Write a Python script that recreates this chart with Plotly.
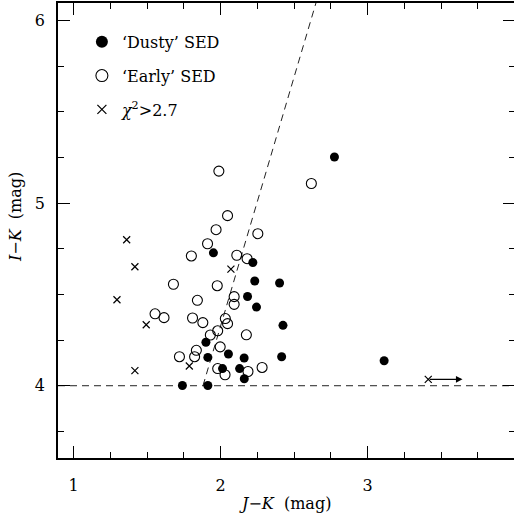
import plotly.graph_objects as go

# --- data (J-K, I-K) ---
dusty_jk = [2.774, 1.951, 2.219, 2.232, 2.401, 2.183, 2.244, 2.424, 1.900, 1.913,
            2.053, 2.160, 2.415, 2.013, 2.129, 2.161, 1.740, 1.913, 3.112]
dusty_ik = [5.253, 4.728, 4.675, 4.574, 4.563, 4.489, 4.431, 4.331, 4.238, 4.155,
            4.174, 4.152, 4.159, 4.094, 4.094, 4.038, 4.001, 4.001, 4.137]

early_jk = [2.617, 1.988, 2.047, 1.969, 2.253, 1.911, 1.801, 2.110, 2.180, 1.679,
            1.977, 1.842, 2.092, 2.092, 1.554, 1.615, 1.809, 1.879, 2.032, 2.047,
            1.930, 1.980, 2.175, 1.997, 1.835, 1.823, 1.720, 1.980, 2.030, 2.186, 2.282]
early_ik = [5.108, 5.176, 4.932, 4.855, 4.833, 4.778, 4.711, 4.715, 4.696, 4.556,
            4.548, 4.468, 4.488, 4.446, 4.394, 4.373, 4.371, 4.346, 4.368, 4.340,
            4.278, 4.301, 4.279, 4.213, 4.194, 4.159, 4.159, 4.094, 4.060, 4.078, 4.100]

chi_jk = [1.361, 1.417, 1.295, 1.494, 1.417, 1.787, 2.070, 3.412]
chi_ik = [4.800, 4.652, 4.471, 4.334, 4.083, 4.108, 4.639, 4.035]

# lower-limit arrow for the reddest cross
arrow_from_jk = 3.412
arrow_to_jk = 3.645
arrow_ik = 4.035

# reference lines
hline_ik = 4.0
slope_jk = [1.88, 2.686]
slope_ik = [4.0, 6.2]

x_range = [0.894, 4.002]
y_range = [3.604, 6.097]

FONT = "DejaVu Serif"

fig = go.Figure()

# dashed reference lines
fig.add_trace(go.Scatter(x=x_range, y=[hline_ik, hline_ik], mode="lines",
                         line=dict(color="#222", width=1, dash="7px,5px"),
                         showlegend=False, hoverinfo="skip"))
fig.add_trace(go.Scatter(x=slope_jk, y=slope_ik, mode="lines",
                         line=dict(color="#222", width=1, dash="7px,5px"),
                         showlegend=False, hoverinfo="skip"))

# data
fig.add_trace(go.Scatter(x=early_jk, y=early_ik, mode="markers",
                         marker=dict(symbol="circle-open", size=10, color="black",
                                     line=dict(width=1.1, color="black")),
                         showlegend=False))
fig.add_trace(go.Scatter(x=dusty_jk, y=dusty_ik, mode="markers",
                         marker=dict(symbol="circle", size=9, color="black"),
                         showlegend=False))
fig.add_trace(go.Scatter(x=chi_jk, y=chi_ik, mode="markers",
                         marker=dict(symbol="x-thin", size=7, color="black",
                                     line=dict(width=1.2, color="black")),
                         showlegend=False))

# legend entries
fig.add_trace(go.Scatter(x=[None], y=[None], mode="markers", name="‘Dusty’ SED",
                         legendgroup="a",
                         marker=dict(symbol="circle", size=12, color="black")))
fig.add_trace(go.Scatter(x=[None], y=[None], mode="markers", name="‘Early’ SED",
                         legendgroup="b",
                         marker=dict(symbol="circle-open", size=12, color="black",
                                     line=dict(width=1.1, color="black"))))
fig.add_trace(go.Scatter(x=[None], y=[None], mode="markers",
                         name="<i>χ</i><sup>2</sup>>2.7", legendgroup="c",
                         marker=dict(symbol="x-thin", size=9, color="black",
                                     line=dict(width=1.2, color="black"))))

fig.add_annotation(x=arrow_to_jk, y=arrow_ik, ax=arrow_from_jk, ay=arrow_ik,
                   xref="x", yref="y", axref="x", ayref="y", text="",
                   showarrow=True, arrowhead=2, arrowsize=1.2, arrowwidth=1.1,
                   arrowcolor="black")

# axis titles (plot area spans 58..517 px horizontally)
fig.add_annotation(x=(286 - 58) / 459, y=-0.099, xref="paper", yref="paper",
                   text="<i>J</i>−<i>K</i>\u00a0 (mag)", showarrow=False,
                   xanchor="center", yanchor="middle",
                   font=dict(family=FONT, size=16, color="black"))
fig.add_annotation(x=(16 - 58) / 459, y=0.53, xref="paper", yref="paper",
                   text="<i>I</i>−<i>K</i>\u00a0 (mag)", showarrow=False,
                   textangle=-90, xanchor="center", yanchor="middle",
                   font=dict(family=FONT, size=16, color="black"))

axis_common = dict(showline=True, linecolor="black", linewidth=1.5, mirror="allticks",
                   ticks="inside", ticklen=12, tickwidth=1, tickcolor="black",
                   showgrid=False, zeroline=False,
                   tickfont=dict(family=FONT, size=16, color="black"),
                   minor=dict(ticks="inside", ticklen=6, dtick=0.25, tickwidth=1,
                              tickcolor="black", showgrid=False))

fig.update_xaxes(range=x_range, tickvals=[1, 2, 3], ticklabelstandoff=12,
                 **axis_common)
fig.update_yaxes(range=y_range, tickvals=[4, 5, 6], ticklabelstandoff=8,
                 **axis_common)

fig.update_layout(
    width=517, height=517,
    margin=dict(l=58, r=0, t=3, b=59),
    plot_bgcolor="white", paper_bgcolor="white",
    font=dict(family=FONT, size=16, color="black"),
    legend=dict(x=24 / 459, y=0.952, xanchor="left", yanchor="top",
                bgcolor="rgba(0,0,0,0)", tracegroupgap=10,
                font=dict(family=FONT, size=16, color="black")),
)

fig.write_html("out.html",
               config={"displayModeBar": False},
               post_script="document.body.style.margin='0';"
                           "document.body.style.overflow='hidden';")
